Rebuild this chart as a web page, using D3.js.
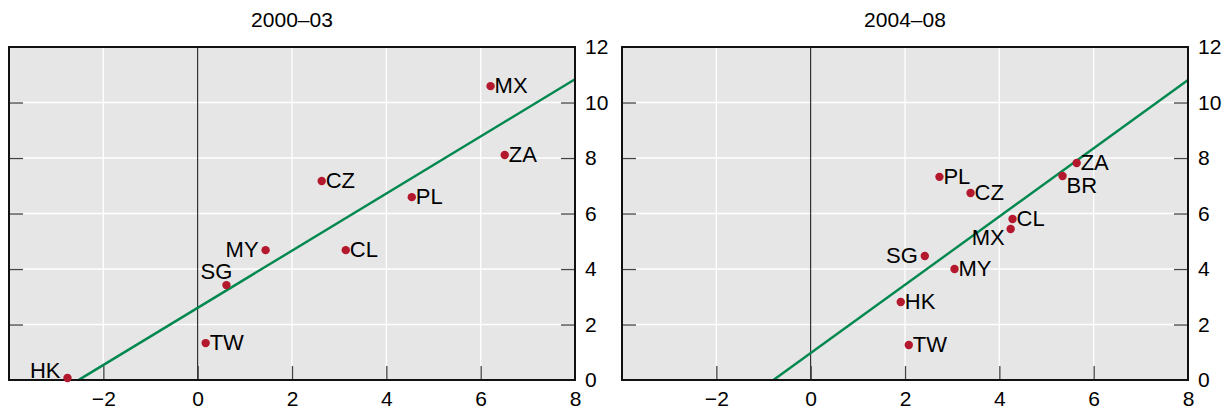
<!DOCTYPE html>
<html><head><meta charset="utf-8">
<script src="https://cdn.jsdelivr.net/npm/d3@7"></script>
<style>body{margin:0;background:#fff;} text{font-family:"Liberation Sans Narrow","Arial Narrow","Liberation Sans",Arial,sans-serif;}</style>
</head><body>
<svg id="c" width="1229" height="411"></svg>
<script>
const titles = ["2000–03", "2004–08"];
const codes1 = ["HK","TW","SG","MY","CZ","CL","PL","MX","ZA"];
const x1 = [-2.76, 0.17, 0.61, 1.44, 2.63, 3.14, 4.54, 6.21, 6.51];
const y1 = [0.07, 1.33, 3.42, 4.68, 7.17, 4.68, 6.59, 10.59, 8.11];
const pos1 = ["ul","r","a","l","r","r","r","r","r"];
const codes2 = ["PL","CZ","ZA","BR","CL","MX","SG","MY","HK","TW"];
const x2 = [2.73, 3.39, 5.64, 5.34, 4.28, 4.24, 2.42, 3.05, 1.91, 2.08];
const y2 = [7.32, 6.74, 7.82, 7.35, 5.80, 5.44, 4.47, 4.00, 2.81, 1.26];
const pos2 = ["r","r","r","br","r","bl","l","r","r","r"];
const fit1 = {slope:1.03, intercept:2.6, x0:-2.52, x1:8};
const fit2 = {slope:1.23, intercept:0.97, x0:-0.79, x1:8};
const xTicks = [-2,0,2,4,6,8];
const yTicks = [0,2,4,6,8,10,12];
const xDomain = [-4, 8], yDomain = [0, 12];

const svg = d3.select("#c");
const panels = [
  {title:titles[0], codes:codes1, xs:x1, ys:y1, pos:pos1, fit:fit1, left:9, right:575},
  {title:titles[1], codes:codes2, xs:x2, ys:y2, pos:pos2, fit:fit2, left:622, right:1188}
];
const plotTop = 47, plotBottom = 380;
const red = "#b3182d", green = "#00884f";
const FONT = "'Liberation Sans Narrow', 'Arial Narrow', 'Liberation Sans', Arial, sans-serif";

panels.forEach(p => {
  const x = d3.scaleLinear().domain(xDomain).range([p.left, p.right]);
  const y = d3.scaleLinear().domain(yDomain).range([plotBottom, plotTop]);
  const g = svg.append("g");
  g.append("rect").attr("x", p.left).attr("y", plotTop).attr("width", p.right - p.left).attr("height", plotBottom - plotTop).attr("fill", "#e6e6e6");
  // grid
  g.selectAll(".gx").data(xTicks.filter(t => t !== 0 && t !== 8)).join("line")
    .attr("x1", d => x(d)).attr("x2", d => x(d)).attr("y1", plotTop).attr("y2", plotBottom)
    .attr("stroke", "#fff").attr("stroke-width", 1.3);
  g.selectAll(".gy").data(yTicks.filter(t => t !== 0 && t !== 12)).join("line")
    .attr("x1", p.left).attr("x2", p.right).attr("y1", d => y(d)).attr("y2", d => y(d))
    .attr("stroke", "#fff").attr("stroke-width", 1.3);
  // zero line
  g.append("line").attr("x1", x(0)).attr("x2", x(0)).attr("y1", plotTop).attr("y2", plotBottom).attr("stroke", "#111").attr("stroke-width", 1);
  // axes with inward ticks
  const ax = d3.axisBottom(x).tickValues(xTicks).tickSize(-14).tickPadding(11).tickFormat(d => d < 0 ? "\u2212" + Math.abs(d) : d);
  const axG = g.append("g").attr("transform", `translate(0,${plotBottom})`).call(ax);
  const ayR = d3.axisRight(y).tickValues(yTicks).tickSize(-14).tickPadding(10);
  const ayRG = g.append("g").attr("transform", `translate(${p.right},0)`).call(ayR);
  const ayL = d3.axisLeft(y).tickValues(yTicks).tickSize(-14).tickFormat("");
  const ayLG = g.append("g").attr("transform", `translate(${p.left},0)`).call(ayL);
  [axG, ayRG, ayLG].forEach(a => {
    a.select(".domain").remove();
    a.selectAll(".tick line").attr("stroke", "#444").attr("stroke-width", 1.3);
    a.selectAll("text").attr("fill", "#000").style("font-size", "21px").style("font-family", FONT);
  });
  axG.selectAll(".tick").filter(d => d === 8).select("line").remove();
  ayRG.selectAll(".tick").filter(d => d === 0 || d === 12).select("line").remove();
  ayLG.selectAll(".tick").filter(d => d === 0 || d === 12).select("line").remove();
  // fit line
  g.append("line")
    .attr("x1", x(p.fit.x0)).attr("y1", y(p.fit.intercept + p.fit.slope * p.fit.x0))
    .attr("x2", x(p.fit.x1)).attr("y2", y(p.fit.intercept + p.fit.slope * p.fit.x1))
    .attr("stroke", green).attr("stroke-width", 2.4);
  // frame
  g.append("rect").attr("x", p.left).attr("y", plotTop).attr("width", p.right - p.left).attr("height", plotBottom - plotTop)
    .attr("fill", "none").attr("stroke", "#111").attr("stroke-width", 2);
  // points
  const data = p.codes.map((c, i) => ({c, x:p.xs[i], y:p.ys[i], pos:p.pos[i]}));
  g.selectAll("circle.pt").data(data).join("circle").attr("class", "pt")
    .attr("cx", d => x(d.x)).attr("cy", d => y(d.y)).attr("r", 4.2).attr("fill", red);
  g.selectAll("text.lb").data(data).join("text").attr("class", "lb")
    .attr("x", d => x(d.x) + ({r:4, l:-7, ul:-7, a:-10, bl:-6, br:4}[d.pos]))
    .attr("y", d => y(d.y) + ({r:7, l:7, ul:0, a:-6, bl:16, br:17}[d.pos]))
    .attr("text-anchor", d => ({r:"start", l:"end", ul:"end", a:"middle", bl:"end", br:"start"}[d.pos]))
    .style("font-size", "22px").attr("fill", "#000").text(d => d.c);
  // title
  svg.append("text").attr("x", (p.left + p.right) / 2).attr("y", 27).attr("text-anchor", "middle")
    .style("font-size", "21px").attr("fill", "#000").text(p.title);
});
</script>
</body></html>
